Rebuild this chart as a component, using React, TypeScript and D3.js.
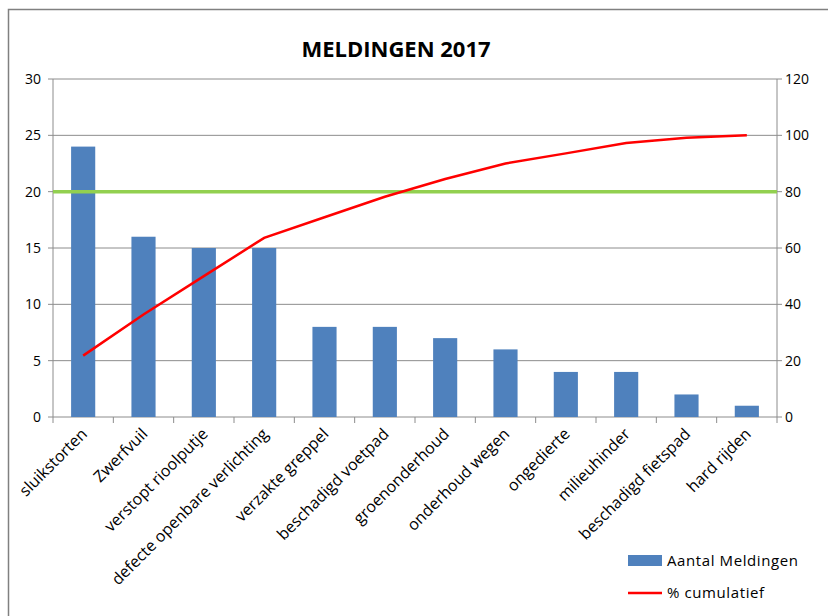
import React from 'react';
import * as d3 from 'd3';

const categories = [
  'sluikstorten', 'Zwerfvuil', 'verstopt rioolputje', 'defecte openbare verlichting',
  'verzakte greppel', 'beschadigd voetpad', 'groenonderhoud', 'onderhoud wegen',
  'ongedierte', 'milieuhinder', 'beschadigd fietspad', 'hard rijden',
];
const meldingen = [24, 16, 15, 15, 8, 8, 7, 6, 4, 4, 2, 1];
const cumulatief = [21.8, 36.4, 50, 63.6, 70.9, 78.2, 84.5, 90, 93.6, 97.3, 99.1, 100];
const leftTicks = [0, 5, 10, 15, 20, 25, 30];
const rightTicks = [0, 20, 40, 60, 80, 100, 120];
const threshold = 20;

const width = 828;
const height = 616;
const margin = { left: 53, right: 51, top: 79, bottom: 199 };
const font = '"Open Sans", "Liberation Sans", Arial, sans-serif';
const gridColor = '#8c8c8c';

export default function App() {
  const x0 = margin.left;
  const x1 = width - margin.right;
  const y0 = height - margin.bottom;
  const y1 = margin.top;

  const x = d3.scaleBand().domain(categories).range([x0, x1]).paddingInner(0.6).paddingOuter(0.3);
  const yL = d3.scaleLinear().domain([0, 30]).range([y0, y1]);
  const yR = d3.scaleLinear().domain([0, 120]).range([y0, y1]);
  const center = (c: string) => (x(c) ?? 0) + x.bandwidth() / 2;

  const line = d3.line<number>()
    .x((_, i) => center(categories[i]))
    .y(d => yR(d));

  const boundaries = d3.range(categories.length + 1).map(i => x0 + i * (x1 - x0) / categories.length);

  return (
    <svg width={width} height={height} style={{ position: 'absolute', left: 0, top: 0, background: '#fff' }}>
      <rect x={8.5} y={9.5} width={900} height={900} fill="#fff" stroke="#808080" strokeWidth={1.5} />
      <text x={396} y={57} textAnchor="middle" fontFamily={font} fontWeight="bold" fontSize={22} fill="#000">
        MELDINGEN 2017
      </text>

      {leftTicks.map(t => (
        <g key={'g' + t}>
          <line x1={x0 - 5} x2={x1 + 5} y1={yL(t)} y2={yL(t)} stroke={gridColor} strokeWidth={1} />
          <text x={41} y={yL(t)} dy="0.35em" textAnchor="end" fontFamily={font} fontSize={14} fill="#000">{t}</text>
        </g>
      ))}
      {rightTicks.map(t => (
        <text key={'r' + t} x={785} y={yR(t)} dy="0.35em" fontFamily={font} fontSize={14} fill="#000">{t}</text>
      ))}
      <line x1={x0} x2={x0} y1={y1} y2={y0} stroke={gridColor} />
      <line x1={x1} x2={x1} y1={y1} y2={y0} stroke={gridColor} />
      {boundaries.map((b, i) => (
        <line key={'b' + i} x1={b} x2={b} y1={y0} y2={y0 + 6} stroke={gridColor} />
      ))}

      {categories.map((c, i) => (
        <rect key={c} x={x(c)} y={yL(meldingen[i])} width={x.bandwidth()} height={y0 - yL(meldingen[i])} fill="#4f81bd" />
      ))}

      <line x1={x0} x2={x1} y1={yL(threshold)} y2={yL(threshold)} stroke="#92d050" strokeWidth={3.5} />
      <path d={line(cumulatief) ?? ''} fill="none" stroke="#ff0000" strokeWidth={2.5} />

      {categories.map(c => (
        <text key={'l' + c} transform={`translate(${center(c) + 5},${y0 + 18}) rotate(-45)`}
          textAnchor="end" fontFamily={font} fontSize={16} fill="#000">{c}</text>
      ))}

      <rect x={628} y={555} width={34} height={11} fill="#4f81bd" />
      <text x={667} y={566} fontFamily={font} fontSize={15} letterSpacing={0.6} fill="#000">Aantal Meldingen</text>
      <line x1={628} x2={662} y1={593} y2={593} stroke="#ff0000" strokeWidth={2.5} />
      <text x={667} y={598} fontFamily={font} fontSize={15} letterSpacing={0.6} fill="#000">% cumulatief</text>
    </svg>
  );
}
